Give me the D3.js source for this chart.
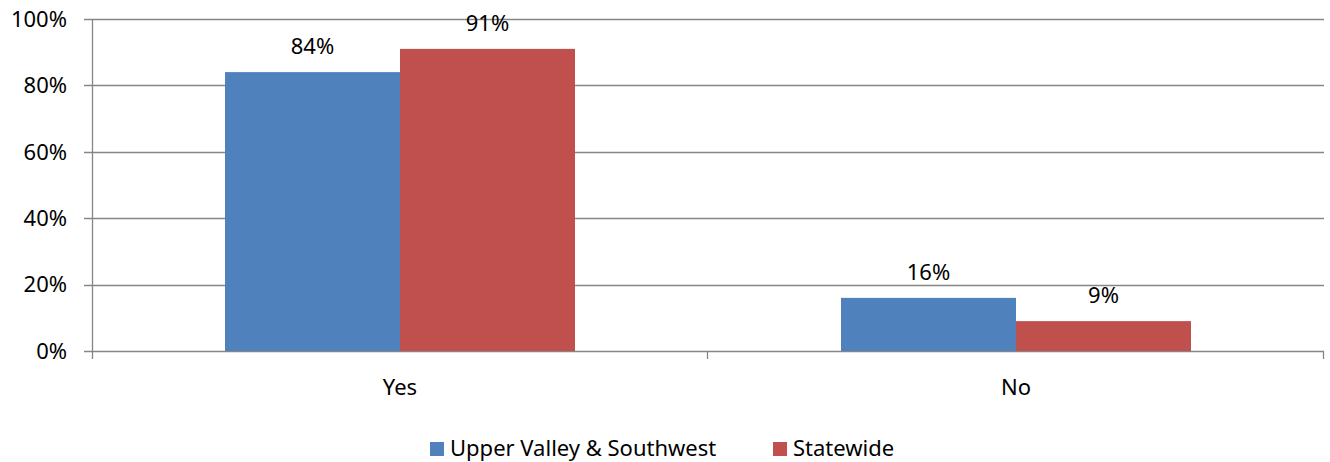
<!DOCTYPE html>
<html>
<head>
<meta charset="utf-8">
<script src="https://cdn.jsdelivr.net/npm/d3@7"></script>
<style>
  body { margin: 0; background: #fff; }
  text { font-family: "Noto Sans", "Open Sans", sans-serif; fill: #000; }
</style>
</head>
<body>
<div id="chart"></div>
<script>
const categories = ["Yes", "No"];
const seriesNames = ["Upper Valley & Southwest", "Statewide"];
const upperValley = [84, 16];
const statewide = [91, 9];
const yTicks = [0, 20, 40, 60, 80, 100];
const colors = ["#4F81BD", "#C0504D"];

// dimensions
var W = 1330, H = 462;
var margin = {top: 19, right: 6, bottom: 111, left: 92},
    width = W - margin.left - margin.right,
    height = H - margin.top - margin.bottom;

var svg = d3.select("#chart")
    .append("svg")
    .attr("width", W)
    .attr("height", H)
    .append("g")
    .attr("transform", "translate(" + margin.left + "," + margin.top + ")");

var data = categories.map(function(c, i) {
    return {cat: c, values: [upperValley[i], statewide[i]]};
});

var x = d3.scaleBand()
    .domain(categories)
    .range([0, width]);

var x1 = d3.scaleBand()
    .domain(d3.range(seriesNames.length))
    .range([0, x.bandwidth()])
    .paddingOuter(0.76)
    .paddingInner(0);

var y = d3.scaleLinear()
    .domain([0, 100])
    .range([height, 0]);

var gridColor = "#868686";
var fs = "22px";

// gridlines
svg.selectAll(".grid")
    .data(yTicks)
    .enter()
    .append("line")
    .attr("x1", -8)
    .attr("x2", width)
    .attr("y1", function(d) { return Math.round(y(d)) + 0.5; })
    .attr("y2", function(d) { return Math.round(y(d)) + 0.5; })
    .attr("stroke", gridColor)
    .attr("stroke-width", 1.3);

// y axis line
svg.append("line")
    .attr("x1", 0.5).attr("x2", 0.5)
    .attr("y1", 0).attr("y2", height + 8)
    .attr("stroke", gridColor)
    .attr("stroke-width", 1.3);

// x ticks at category boundaries
var xBounds = categories.map(function(c) { return x(c); }).concat([width]);
svg.selectAll(".xtick")
    .data(xBounds.slice(1))
    .enter()
    .append("line")
    .attr("x1", function(d) { return Math.round(d) - 0.5; })
    .attr("x2", function(d) { return Math.round(d) - 0.5; })
    .attr("y1", height)
    .attr("y2", height + 8)
    .attr("stroke", gridColor)
    .attr("stroke-width", 1.3);

// y labels
svg.selectAll(".ylab")
    .data(yTicks)
    .enter()
    .append("text")
    .attr("x", -25)
    .attr("y", function(d) { return y(d); })
    .attr("dy", "0.35em")
    .attr("text-anchor", "end")
    .style("font-size", fs)
    .text(function(d) { return d + "%"; });

// bars
var groups = svg.selectAll(".barGroup")
    .data(data)
    .enter()
    .append("g")
    .attr("transform", function(d) { return "translate(" + x(d.cat) + ",0)"; });

groups.selectAll("rect")
    .data(function(d) { return d.values.map(function(v, i) { return {i: i, v: v}; }); })
    .enter()
    .append("rect")
    .attr("x", function(d) { return x1(d.i); })
    .attr("y", function(d) { return y(d.v); })
    .attr("width", x1.bandwidth())
    .attr("height", function(d) { return height - y(d.v); })
    .attr("fill", function(d) { return colors[d.i]; });

groups.selectAll(".vlab")
    .data(function(d) { return d.values.map(function(v, i) { return {i: i, v: v}; }); })
    .enter()
    .append("text")
    .attr("x", function(d) { return x1(d.i) + x1.bandwidth() / 2; })
    .attr("y", function(d) { return y(d.v) - 26; })
    .attr("dy", "0.35em")
    .attr("text-anchor", "middle")
    .style("font-size", fs)
    .text(function(d) { return d.v + "%"; });

// category labels
svg.selectAll(".xlab")
    .data(categories)
    .enter()
    .append("text")
    .attr("x", function(d) { return x(d) + x.bandwidth() / 2; })
    .attr("y", height + 36)
    .attr("dy", "0.35em")
    .attr("text-anchor", "middle")
    .style("font-size", fs)
    .text(function(d) { return d; });

// legend
var legend = svg.append("g")
    .attr("transform", "translate(0," + (448 - margin.top) + ")");
var legendX = [430 - margin.left, 773 - margin.left];
seriesNames.forEach(function(name, i) {
    legend.append("rect")
        .attr("x", legendX[i])
        .attr("y", -6)
        .attr("width", 14)
        .attr("height", 14)
        .attr("fill", colors[i]);
    legend.append("text")
        .attr("x", legendX[i] + 20)
        .attr("y", 0)
        .attr("dy", "0.35em")
        .style("font-size", "22px")
        .text(name);
});
</script>
</body>
</html>
